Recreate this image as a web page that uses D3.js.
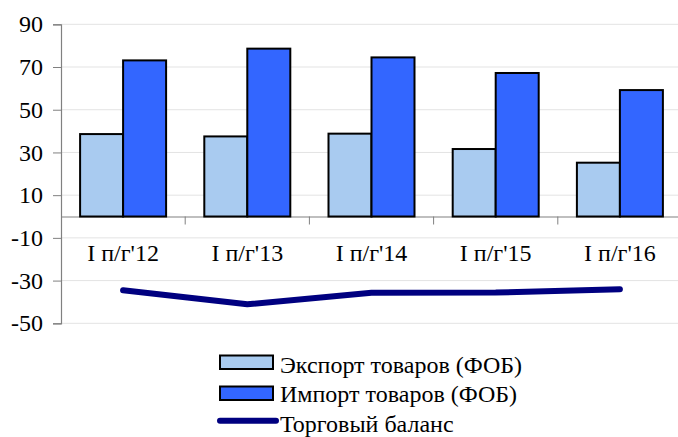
<!DOCTYPE html>
<html><head><meta charset="utf-8">
<script src="https://cdn.jsdelivr.net/npm/d3@7"></script>
<style>body{margin:0;background:#fff}svg{display:block}</style>
</head><body>
<svg id="c" width="678" height="437"></svg>
<script>
const categories = ["I п/г'12","I п/г'13","I п/г'14","I п/г'15","I п/г'16"];
const exportVals = [38.6, 37.5, 38.8, 31.6, 25.2];
const importVals = [73.1, 78.6, 74.5, 67.2, 59.2];
const balanceVals = [-34.5, -41.1, -35.7, -35.6, -34.0];
const yTicks = [90, 70, 50, 30, 10, -10, -30, -50];
const seriesNames = ["Экспорт товаров (ФОБ)", "Импорт товаров (ФОБ)", "Торговый баланс"];

const svg = d3.select("#c");
const FONT = "font-family:'Liberation Serif';font-size:24px;fill:#000";
const L = 61, R = 682, T = 24.3, B = 323.3;
const y = d3.scaleLinear().domain([-50, 90]).range([B, T]);
const x = d3.scaleBand().domain(categories).range([L, R]).paddingInner(0).paddingOuter(0);
const bw = 43;
const sub = d3.scaleBand().domain(["e","i"]).range([0, bw*2]);

// gridlines
svg.append("g").selectAll("line").data(yTicks).join("line")
  .attr("x1", L).attr("x2", 678).attr("y1", d=>y(d)).attr("y2", d=>y(d))
  .attr("stroke", "#e3e3e3").attr("stroke-width", 1);

// y axis
const ya = svg.append("g").attr("transform", `translate(${L},0)`)
  .call(d3.axisLeft(y).tickValues(yTicks).tickSize(8).tickPadding(10).tickFormat(d => String(d)));
ya.attr("font-family", null).attr("font-size", null);
ya.select(".domain").attr("stroke", "#808080").attr("stroke-width", 1.2);
ya.selectAll(".tick line").attr("stroke", "#808080");
ya.selectAll("text").attr("style", FONT);

// x axis at 0
const xa = svg.append("g").attr("transform", `translate(0,${y(0)})`)
  .call(d3.axisBottom(x).tickSize(0).tickFormat(""));
xa.select(".domain").attr("stroke", "#808080").attr("stroke-width", 1.2);
xa.selectAll(".tick").remove();
svg.append("g").selectAll("line").data(categories.slice(1)).join("line")
  .attr("x1", d=>x(d)).attr("x2", d=>x(d)).attr("y1", y(0)).attr("y2", y(0)+8)
  .attr("stroke", "#808080");

// bars
const off = (x.bandwidth() - bw*2)/2;
const g = svg.append("g");
g.selectAll(".ex").data(exportVals).join("rect")
  .attr("x", (d,i)=>x(categories[i]) + off + sub("e"))
  .attr("y", d=>y(d)).attr("width", bw).attr("height", d=>y(0)-y(d))
  .attr("fill", "#A9CBF0").attr("stroke", "#000").attr("stroke-width", 2);
g.selectAll(".im").data(importVals).join("rect")
  .attr("x", (d,i)=>x(categories[i]) + off + sub("i"))
  .attr("y", d=>y(d)).attr("width", bw).attr("height", d=>y(0)-y(d))
  .attr("fill", "#3366FF").attr("stroke", "#000").attr("stroke-width", 2);

// category labels
svg.append("g").selectAll("text").data(categories).join("text")
  .attr("x", d=>x(d)+x.bandwidth()/2).attr("y", 261)
  .attr("text-anchor", "middle").attr("style", FONT)
  .text(d=>d);

// balance line
const line = d3.line().x((d,i)=>x(categories[i])+x.bandwidth()/2).y(d=>y(d));
svg.append("path").datum(balanceVals).attr("d", line)
  .attr("fill", "none").attr("stroke", "#000080").attr("stroke-width", 6)
  .attr("stroke-linecap", "round").attr("stroke-linejoin", "round");

// legend
const lg = svg.append("g");
const lx = 220, baselines = [372.5, 401.7, 431.5];
lg.append("rect").attr("x", lx).attr("y", 355.5).attr("width", 53).attr("height", 13.5)
  .attr("fill", "#A9CBF0").attr("stroke", "#000").attr("stroke-width", 2);
lg.append("rect").attr("x", lx).attr("y", 386.5).attr("width", 53).attr("height", 13.5)
  .attr("fill", "#3366FF").attr("stroke", "#000").attr("stroke-width", 2);
lg.append("line").attr("x1", lx).attr("x2", lx+56).attr("y1", 420.7).attr("y2", 420.7)
  .attr("stroke", "#000080").attr("stroke-width", 6).attr("stroke-linecap", "round");
lg.selectAll("text").data(seriesNames).join("text")
  .attr("x", 280).attr("y", (d,i)=>baselines[i])
  .attr("style", FONT).text(d=>d);
</script>
</body></html>
